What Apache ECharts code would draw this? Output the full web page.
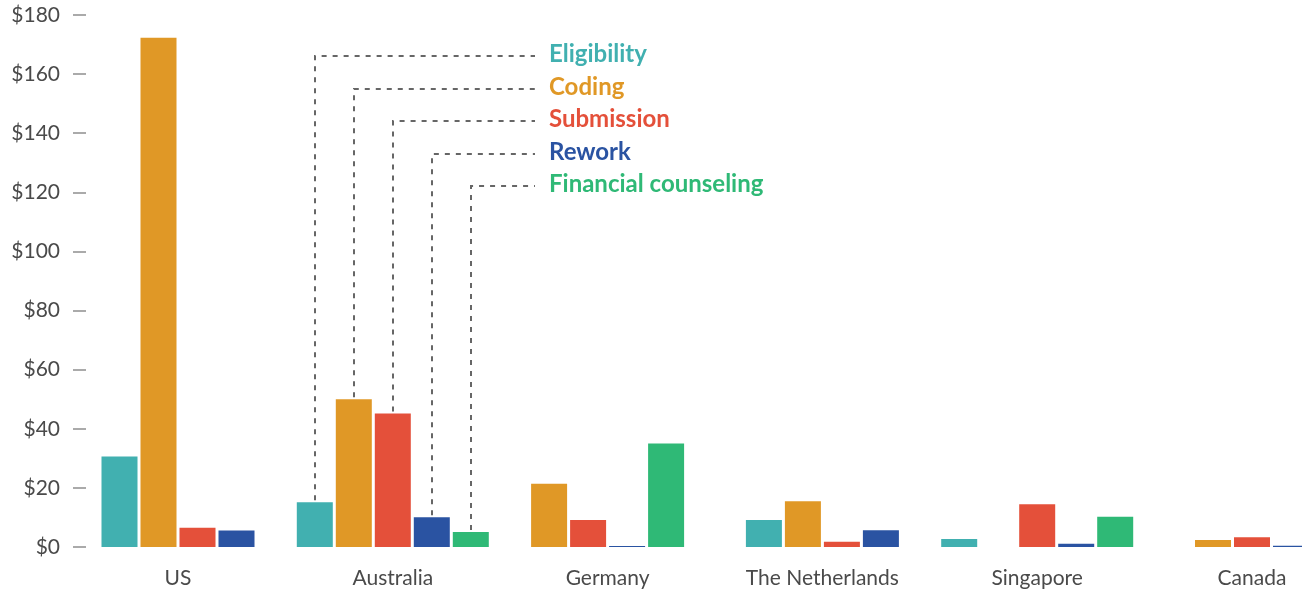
<!DOCTYPE html>
<html>
<head>
<meta charset="utf-8">
<script src="https://cdn.jsdelivr.net/npm/echarts@6/dist/echarts.min.js"></script>
<style>
  html, body { margin: 0; padding: 0; background: #fff; }
  #main { width: 1302px; height: 590px; }
</style>
</head>
<body>
<div id="main"></div>
<script>
var categories = ['US', 'Australia', 'Germany', 'The Netherlands', 'Singapore', 'Canada'];
var seriesNames = ['Eligibility', 'Coding', 'Submission', 'Rework', 'Financial counseling'];
// null = no bar in that group, 0 = empty slot kept in the group
var eligibility = [30.6, 15.1, null, 9.1, 2.7, null];
var coding      = [172.3, 50.0, 21.4, 15.5, 0, 2.4];
var submission  = [6.5, 45.2, 9.1, 1.8, 14.5, 3.3];
var rework      = [5.6, 10.1, 0.3, 5.7, 1.1, 0.45];
var financial   = [null, 5.1, 35.0, null, 10.2, null];
var yTicks = [0, 20, 40, 60, 80, 100, 120, 140, 160, 180];

var values = [eligibility, coding, submission, rework, financial];
var colors = ['#41b0b0', '#e09826', '#e4503a', '#2a53a2', '#2fb976'];

var BAR_W = 36, GAP = 3, PITCH = BAR_W + GAP;
var font = 'Lato, "Noto Sans", sans-serif';

// offset of bar s inside group c, bars of missing series are left out
function barOffset(c, s) {
  var n = 0, k = 0;
  for (var i = 0; i < values.length; i++) {
    if (values[i][c] == null) continue;
    if (i < s) k++;
    n++;
  }
  return -(n * PITCH - GAP) / 2 + k * PITCH;
}

var myChart = echarts.init(document.getElementById('main'));

var series = values.map(function(arr, s) {
  var data = [];
  arr.forEach(function(v, i) {
    if (v != null) data.push([i, v]);
  });
  return {
    name: seriesNames[s],
    type: 'custom',
    data: data,
    encode: { x: 0, y: 1 },
    renderItem: function(params, api) {
      var c = api.value(0);
      var base = api.coord([c, 0]);
      var top = api.coord([c, api.value(1)]);
      return {
        type: 'rect',
        shape: {
          x: base[0] + barOffset(c, s),
          y: top[1],
          width: BAR_W,
          height: base[1] - top[1]
        },
        style: { fill: colors[s] }
      };
    }
  };
});

var option = {
  animation: false,
  grid: { left: 178, right: 50, top: 15, bottom: 43 },
  xAxis: {
    type: 'category',
    data: categories,
    boundaryGap: false,
    axisLine: { show: false },
    axisTick: { show: false },
    axisLabel: {
      margin: 21,
      color: '#4a4a4a',
      fontFamily: font,
      fontSize: 21
    }
  },
  yAxis: {
    type: 'value',
    min: yTicks[0],
    max: yTicks[yTicks.length - 1],
    interval: yTicks[1] - yTicks[0],
    offset: 92,
    axisLine: { show: false },
    axisTick: { show: true, length: 13, lineStyle: { color: '#aaaaaa', width: 2 } },
    splitLine: { show: false },
    axisLabel: {
      margin: 26,
      color: '#4a4a4a',
      fontFamily: font,
      fontSize: 21,
      formatter: function(v) { return '$' + v; }
    }
  },
  series: series
};
myChart.setOption(option);

// legend rows with dashed leader lines down to the Australia bars
var rowY = [56, 89, 121, 154, 186];
var graphic = [];
values.forEach(function(arr, s) {
  var c = 1;
  var base = myChart.convertToPixel({ gridIndex: 0 }, [c, 0]);
  var top = myChart.convertToPixel({ gridIndex: 0 }, [c, arr[c]]);
  var x = Math.round(base[0] + barOffset(c, s) + BAR_W / 2);
  graphic.push({
    type: 'polyline',
    shape: { points: [[x, top[1] - 2], [x, rowY[s]], [535, rowY[s]]] },
    style: { stroke: '#666666', lineWidth: 2, lineDash: [5, 6], fill: null }
  });
  graphic.push({
    type: 'text',
    x: 549,
    y: rowY[s] - 2,
    style: {
      text: seriesNames[s],
      fill: colors[s],
      font: 'bold 24px ' + font,
      verticalAlign: 'middle'
    }
  });
});
myChart.setOption({ graphic: graphic });
</script>
</body>
</html>
